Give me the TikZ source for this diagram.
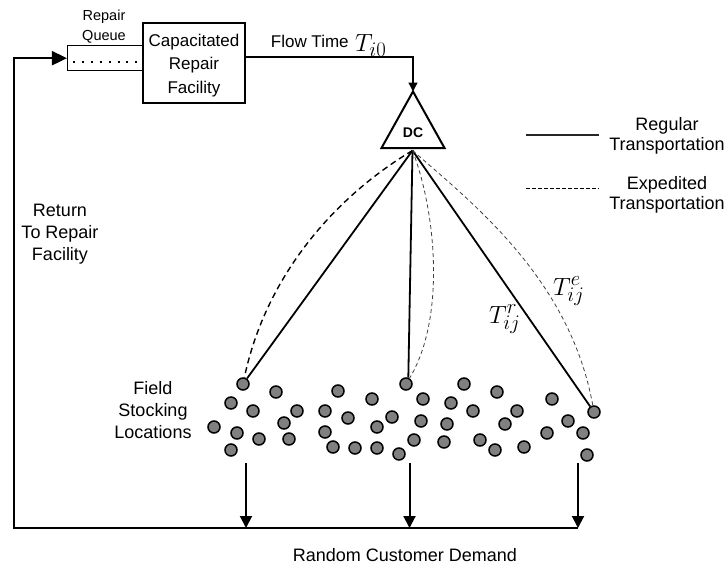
\documentclass[tikz,border=0pt]{standalone}
\usepackage[no-math]{fontspec}
\setmainfont{Liberation Sans}
\usetikzlibrary{arrows.meta}
\definecolor{dotgray}{RGB}{128,128,128}
\begin{document}
\begin{tikzpicture}[x=1pt,y=-1pt,
  txt/.style={inner sep=0pt, align=center, font=\fontsize{18}{21}\selectfont},
  site/.style={circle, draw, line width=1.5pt, fill=dotgray, minimum size=12pt, inner sep=0pt},
  boxd/.style={draw, line width=1.5pt, inner sep=0pt},
  heavy/.style={line width=2pt},
  reg/.style={line width=1.8pt},
  expthick/.style={line width=1.4pt, dash pattern=on 6pt off 4pt},
  expthin/.style={line width=0.8pt, dash pattern=on 4pt off 3pt, black!75},
  bigtip/.style={-{Triangle[length=12pt,width=12pt]}},
  mathlbl/.style={inner sep=0pt, anchor=base west, font=\fontsize{24.88}{26}\selectfont},
]
\path (0,0) rectangle (728,568);

% repair queue and facility
\node[txt, font=\fontsize{14.5}{20}\selectfont] (rq) at (104,26.5) {Repair\\Queue};
\node[boxd, minimum width=75.3pt, minimum height=25pt] (q) at (105.35,58.2) {};
\coordinate (qd1) at (73,61.7);
\coordinate (qd2) at (138,61.7);
\draw[line width=2pt, dash pattern=on 2pt off 6.9pt] (qd1) -- (qd2);
\node[boxd, minimum width=102pt, minimum height=80pt] (fac) at (194,63) {};
\node[txt, font=\fontsize{17}{23.5}\selectfont] (factxt) at (194,65.5) {Capacitated\\Repair\\Facility};

% flow time
\node[txt, font=\fontsize{17}{21}\selectfont, anchor=base west] (ft) at (270.7,47.3) {Flow Time};
\node[mathlbl] (ti0) at (355,51.5) {$T_{i0}$};

% DC
\coordinate (dcapex) at (413,91.5);
\coordinate (dcl) at (381.5,148);
\coordinate (dcr) at (444.5,148);
\draw[line width=2pt, line join=miter] (dcapex) -- (dcr) -- (dcl) -- cycle;
\node[inner sep=0pt, font=\bfseries\fontsize{14}{14}\selectfont] (dc) at (413,133) {DC};
\coordinate (dcb) at (412.5,150.5);
\draw[line width=1.3pt, -{Triangle[length=9pt,width=9pt]}] ([yshift=6pt]fac.east) -| (dcapex);

% legend
\coordinate (lr1) at (526,135);
\coordinate (lr2) at (599,135);
\draw[line width=1.3pt, black!85] (lr1) -- (lr2);
\coordinate (le1) at (526,188);
\coordinate (le2) at (599,188);
\draw[line width=1pt, dash pattern=on 4pt off 2pt] (le1) -- (le2);
\node[txt, font=\fontsize{18}{20}\selectfont] (lrt) at (667,136) {Regular\\Transportation};
\node[txt, font=\fontsize{18}{20}\selectfont] (let) at (667,195) {Expedited\\Transportation};

% field stocking locations
\foreach \i/\x/\y in {1/243/384, 2/276/392, 3/231/403, 4/253/411, 5/297/411, 6/325/411,
  7/214/427, 8/284/423, 9/237/433, 10/259/439, 11/289/439, 12/325/432, 13/231/450,
  14/333/447, 15/338/391, 16/406/384, 17/372/399, 18/423/399, 19/348/418, 20/392/417,
  21/421/421, 22/377/427, 23/414/440, 24/355/448, 25/377/448, 26/399/454, 27/451/403,
  28/447/424, 29/444/442, 30/464/384, 31/497/392, 32/473/411, 33/517/411, 34/552/399,
  35/505/424, 36/568/421, 37/594/412, 38/480/440, 39/547/433, 40/583/433, 41/495/450,
  42/524/447, 43/587/455}
  \node[site] (c\i) at (\x,\y) {};

% transportation links
\draw[reg] (dcb) -- (c1);
\draw[reg] (dcb) -- (c16.70);
\draw[reg] (dcb) -- (c37);
\draw[expthick] (dcb) .. controls (330,200) and (265,280) .. (c1);
\draw[expthin] (dcb) .. controls (437,215) and (445,320) .. (c16);
\draw[expthin] (dcb) .. controls (475,205) and (570,280) .. (c37);

\node[mathlbl] (tr) at (489,323) {$T^{r}_{ij}$};
\node[mathlbl] (te) at (553,295) {$T^{e}_{ij}$};

\node[txt, font=\fontsize{18}{22}\selectfont] (fsl) at (153,410) {Field\\Stocking\\Locations};
\node[txt, font=\fontsize{18}{21.7}\selectfont] (ret) at (60,234) {Return\\To Repair\\Facility};
\node[txt] (rcd) at (405,555) {Random Customer Demand};

% demand arrows and return loop
\coordinate (s1) at (246,463);
\coordinate (e1) at (246,528);
\coordinate (s2) at (409.5,463);
\coordinate (e2) at (409.5,528);
\coordinate (s3) at (578,463);
\coordinate (e3) at (578,528);
\coordinate (corner) at (14,528);
\draw[heavy, bigtip] (s1) -- (e1);
\draw[heavy, bigtip] (s2) -- (e2);
\draw[heavy, bigtip] (s3) -- (e3);
\draw[heavy, -{Triangle[length=15pt,width=14pt]}] (e3) -- (corner) |- (q.west);
\end{tikzpicture}
\end{document}
